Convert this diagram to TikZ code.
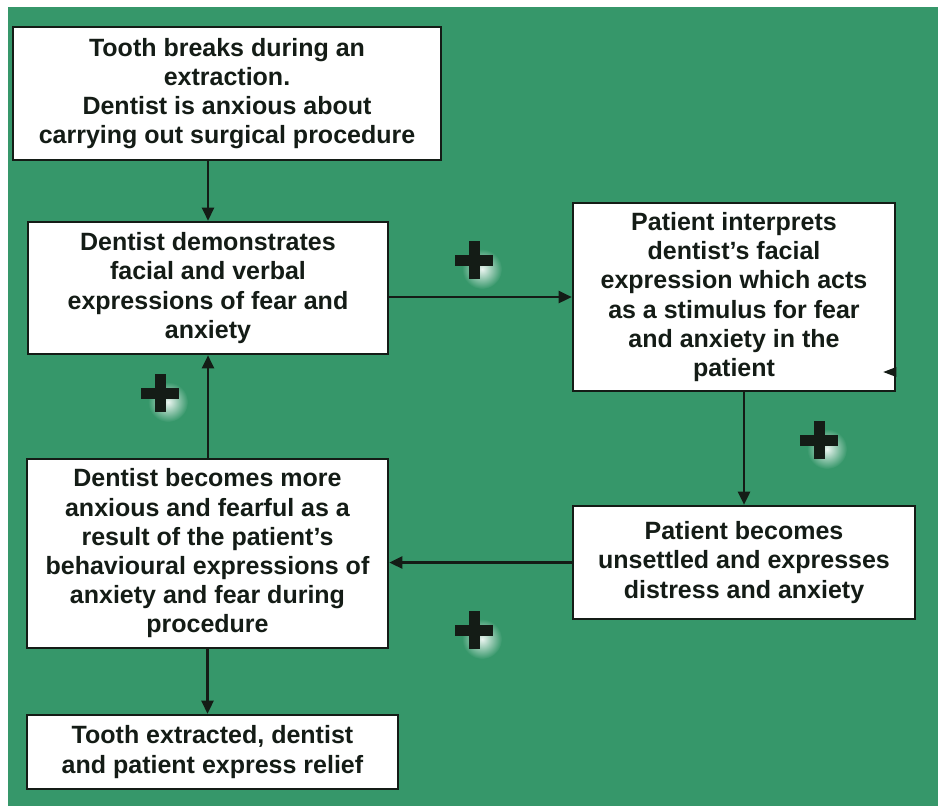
\documentclass[tikz,border=0pt]{standalone}
\usepackage{fontspec}
\setmainfont{Liberation Sans}
\usetikzlibrary{arrows.meta}
\definecolor{bggreen}{HTML}{36976A}
\definecolor{ink}{HTML}{141C16}
\tikzset{
  box/.style={draw=ink, line width=2.6pt, fill=white, inner sep=0pt, align=center,
    text=ink, font=\fontsize{25}{29.2}\selectfont\bfseries},
  arr/.style={draw=ink, line width=2.6pt, -{Triangle[length=13pt,width=12pt]}},
}
\newcommand{\plusmark}[3]{%
  \shade[inner color=white!90!bggreen, outer color=bggreen] (#1+8,#2+9) circle[radius=20];
  \node[fill=ink, minimum width=38pt, minimum height=11pt, inner sep=0pt] (#3h) at (#1,#2) {};
  \node[fill=ink, minimum width=11pt, minimum height=38pt, inner sep=0pt] (#3v) at (#1,#2) {};
}
\begin{document}
\begin{tikzpicture}[x=1pt,y=-1pt]
\useasboundingbox (0,0) rectangle (938,806);
\fill[white] (0,0) rectangle (938,806);
\fill[bggreen] (8,7) rectangle (938,806);

\node[box, minimum width=428pt, minimum height=133pt] (b1) at (227,93.5)
  {Tooth breaks during an\\extraction.\\Dentist is anxious about\\carrying out surgical procedure};
\node[box, minimum width=360pt, minimum height=132pt] (b2) at (208,288)
  {Dentist demonstrates\\facial and verbal\\expressions of fear and\\anxiety};
\node[box, minimum width=322pt, minimum height=188pt] (b3) at (734,297)
  {Patient interprets\\dentist’s facial\\expression which acts\\as a stimulus for fear\\and anxiety in the\\patient};
\node[box, minimum width=342pt, minimum height=113pt] (b4) at (744,562.5)
  {Patient becomes\\unsettled and expresses\\distress and anxiety};
\node[box, minimum width=361pt, minimum height=189pt] (b5) at (207.5,553.5)
  {Dentist becomes more\\anxious and fearful as a\\result of the patient’s\\behavioural expressions of\\anxiety and fear during\\procedure};
\node[box, minimum width=371pt, minimum height=74pt] (b6) at (212.5,752)
  {Tooth extracted, dentist\\and patient express relief};

\draw[arr] (b1.south -| b2.north) -- (b2.north);
\draw[arr] (b2.east |- b3.west) -- (b3.west);
\draw[arr] (b3.south -| b4.north) -- (b4.north);
\draw[arr] (b4.west) -- (b4.west -| b5.east);
\draw[arr] (b5.north -| b2.south) -- (b2.south);
\draw[arr] (b5.south) -- (b5.south |- b6.north);

\coordinate (tipc) at (b3.east |- 0,372);
\fill[ink] (tipc) ++(-13,0) -- ++(13,-5) -- ++(0,10) -- cycle;

\plusmark{474}{260}{p1}
\plusmark{819}{440}{p2}
\plusmark{160}{393}{p3}
\plusmark{474}{630}{p4}
\end{tikzpicture}
\end{document}
